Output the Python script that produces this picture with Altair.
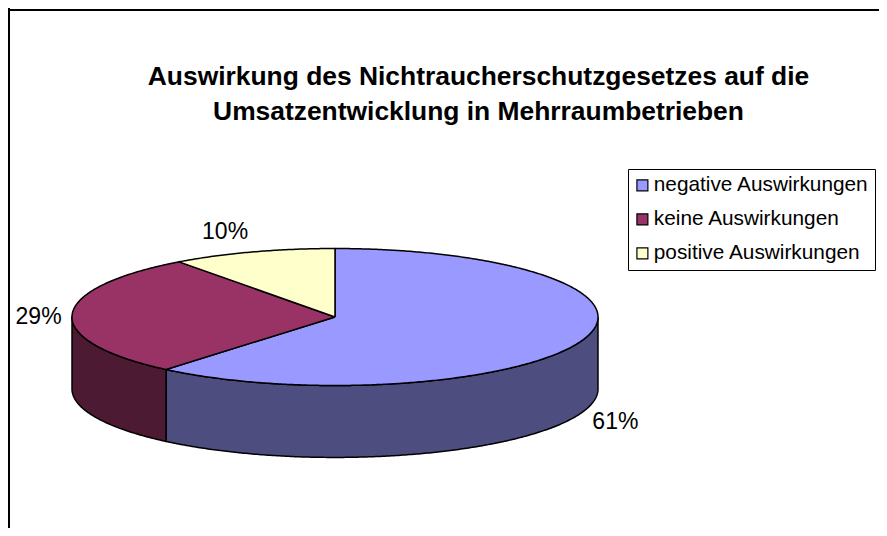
import numpy as np
import pandas as pd
import altair as alt

categories = ["negative Auswirkungen", "keine Auswirkungen", "positive Auswirkungen"]
shares = [61.1, 28.8, 10.1]
labels = ["61%", "29%", "10%"]
top_colors = ["#9999FF", "#993366", "#FFFFCC"]
wall_colors = ["#4D4D80", "#4D1A33"]
title_lines = ["Auswirkung des Nichtraucherschutzgesetzes auf die",
               "Umsatzentwicklung in Mehrraumbetrieben"]
# label anchors in pie units (radius = 1 on each axis)
label_x = [1.066, -1.127, -0.418]
label_y = [-1.535, 0.0, 1.24]

DEPTH = 1.05  # thickness of the disc in units of the vertical radius
PX_X = (-327 / 263, 544 / 263)
PX_Y = (-211 / 68.5, 309 / 68.5)


def rim(a, b):
    t = np.radians(np.linspace(a, b, max(2, int(abs(b - a) * 2))))
    return np.sin(t), np.cos(t)


rows = []


def add(part, xs, ys):
    for i, (px, py) in enumerate(zip(xs, ys)):
        rows.append({"part": part, "seq": i, "x": float(px), "y": float(py)})


edges = np.cumsum([0] + shares) * 3.6
# side walls (only the front half of the disc shows)
for k, (a, b) in enumerate([(90, edges[1]), (edges[1], 270)]):
    xs, ys = rim(a, b)
    add(f"w{k}", np.r_[xs, xs[::-1], xs[0]], np.r_[ys, ys[::-1] - DEPTH, ys[0]])
# top surface
for k in range(3):
    xs, ys = rim(edges[k], edges[k + 1])
    add(f"t{k}", np.r_[0, xs, 0], np.r_[0, ys, 0])

df = pd.DataFrame(rows)
parts = ["w0", "w1", "t0", "t1", "t2"]
part_colors = wall_colors + top_colors

x_scale = alt.Scale(domain=list(PX_X), nice=False, zero=False)
y_scale = alt.Scale(domain=list(PX_Y), nice=False, zero=False)
X = alt.X("x:Q", scale=x_scale, axis=None)
Y = alt.Y("y:Q", scale=y_scale, axis=None)

pie = alt.Chart(df).mark_line(stroke="black", strokeWidth=1.5, strokeJoin="round").encode(
    x=X, y=Y, order="seq:Q",
    detail="part:N",
    fill=alt.Fill("part:N", scale=alt.Scale(domain=parts, range=part_colors), legend=None),
)

legend_df = pd.DataFrame({"cat": categories, "x": [0.0] * 3, "y": [0.0] * 3})
legend_layer = alt.Chart(legend_df).mark_point(filled=True, size=0, opacity=1).encode(
    x=X, y=Y,
    color=alt.Color("cat:N", sort=categories,
                    scale=alt.Scale(domain=categories, range=top_colors),
                    legend=alt.Legend(
                        title=None, orient="none", legendX=620, legendY=161,
                        symbolType="square", symbolSize=120, symbolStrokeColor="black",
                        symbolStrokeWidth=1.2, symbolOpacity=1, symbolOffset=-2,
                        labelFont="Liberation Sans", labelFontSize=20.8, labelColor="black",
                        labelLimit=400, rowPadding=12, labelOffset=1,
                        strokeColor="black", fillColor="white", padding=6,
                    )),
)

label_df = pd.DataFrame({"label": labels, "x": label_x, "y": label_y})
text = alt.Chart(label_df).mark_text(font="Liberation Sans", fontSize=23, color="black").encode(
    x=X, y=Y, text="label:N"
)

frame_top = alt.Chart(pd.DataFrame({"k": [0]})).mark_rule(color="black", strokeWidth=2).encode(
    x=alt.value(0), x2=alt.value(871), y=alt.value(2)
)
frame_left = alt.Chart(pd.DataFrame({"k": [0]})).mark_rule(color="black", strokeWidth=2).encode(
    y=alt.value(0), y2=alt.value(520), x=alt.value(1)
)

chart = alt.layer(frame_top, frame_left, pie, legend_layer, text).resolve_scale(
    fill="independent", color="independent"
).properties(
    width=871, height=520,
    autosize=alt.AutoSizeParams(type="none"),
    padding=0,
    background="white",
    title=alt.TitleParams(
        text=title_lines, orient="top", anchor="middle", dx=35, dy=122,
        font="Liberation Sans", fontSize=26.4, fontWeight="bold", color="black", lineHeight=35,
    ),
).configure_view(stroke=None)

chart.save("out.html", embed_options={"renderer": "svg", "actions": False})
